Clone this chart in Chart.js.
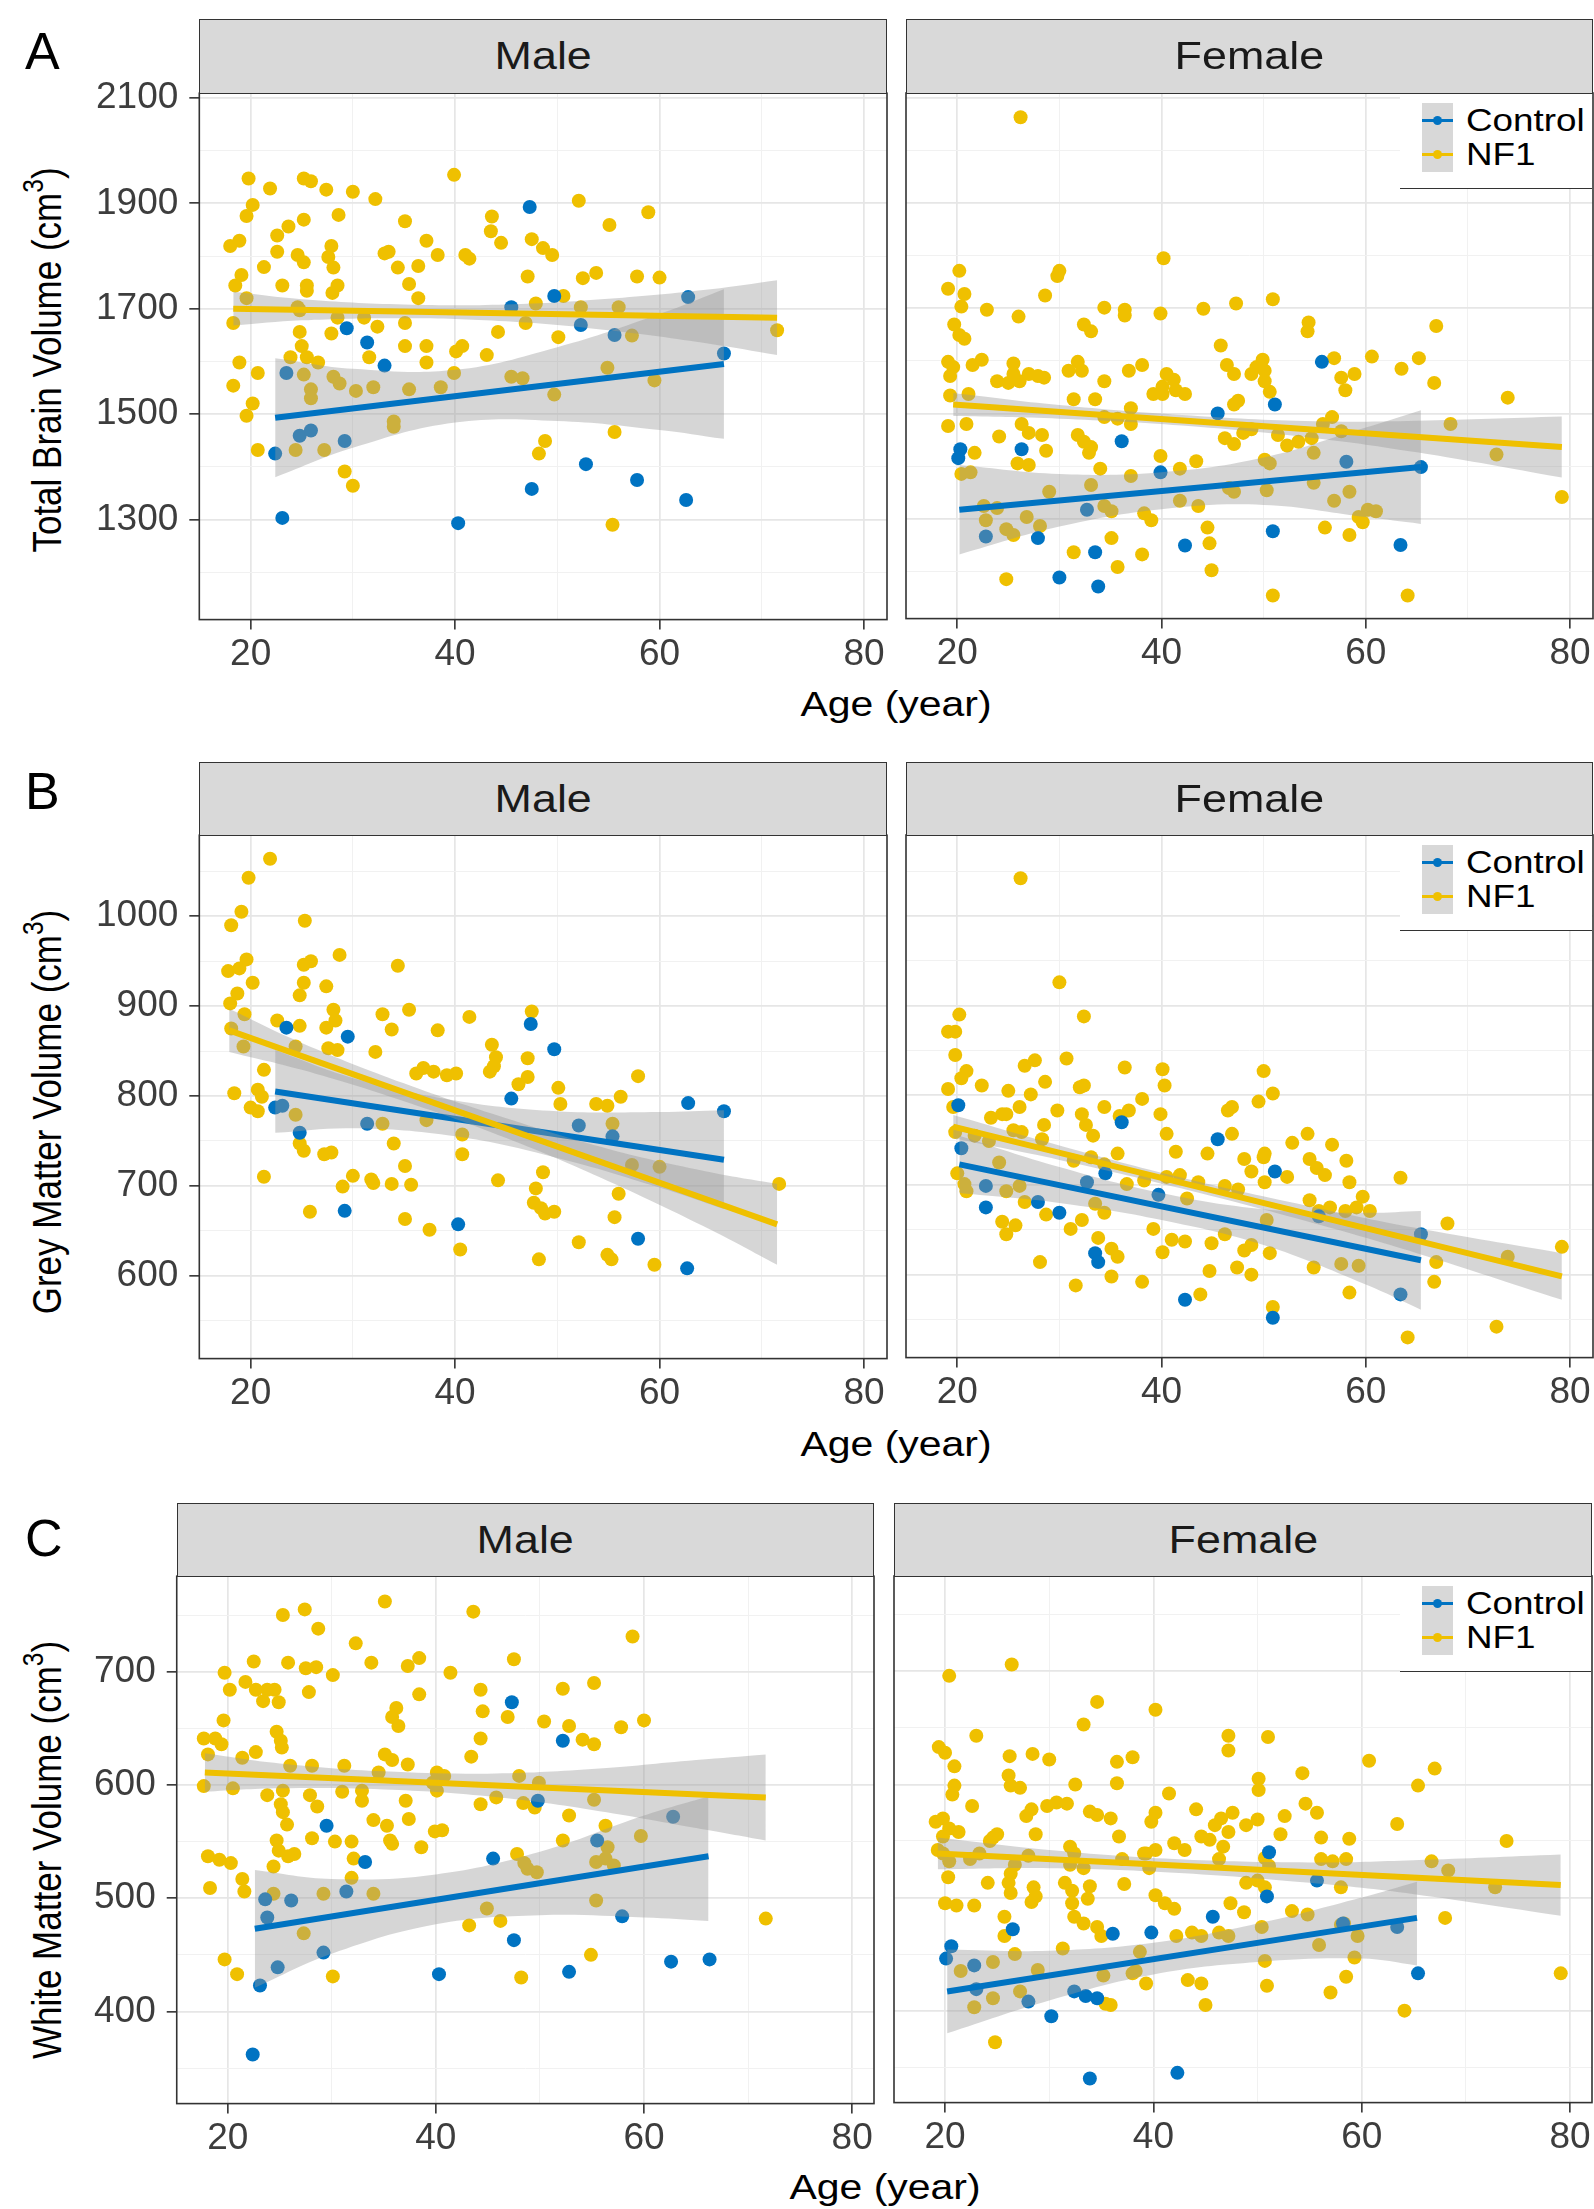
<!DOCTYPE html>
<html><head><meta charset="utf-8">
<script src="https://cdn.jsdelivr.net/npm/chart.js@4.4.1/dist/chart.umd.min.js"></script>
<style>
html,body{margin:0;padding:0;background:#fff;}
body{width:1594px;height:2209px;position:relative;overflow:hidden;font-family:"Liberation Sans",Arial,sans-serif;}
canvas{position:absolute;z-index:1;}
.strip{position:absolute;box-sizing:border-box;background:#d9d9d9;border:1.5px solid #333;display:flex;align-items:center;justify-content:center;color:#1a1a1a;font-size:38px;z-index:3;}
.strip span{display:inline-block;transform:scaleX(1.18);}
.xt{position:absolute;font-size:35px;color:#000;transform:translate(-50%,-50%) scaleX(1.17);white-space:nowrap;z-index:3;line-height:1;}
.yt{position:absolute;font-size:35px;color:#000;transform:translate(-50%,-50%) rotate(-90deg) scaleY(1.17);white-space:nowrap;z-index:3;line-height:1;}
.yt sup{font-size:0.7em;vertical-align:0.6em;line-height:0;}
.lab{position:absolute;font-size:52px;line-height:1;color:#000;z-index:3;}
.legend{position:absolute;background:#fff;border-bottom:1.5px solid #333;box-sizing:border-box;z-index:3;}
.lkey{position:absolute;left:22px;top:9px;width:31px;height:69px;background:#d8d8d8;}
.lline{position:absolute;left:0;width:31px;height:3px;}
.ldot{position:absolute;left:11px;width:9px;height:9px;border-radius:50%;}
.ltxt{position:absolute;left:66px;font-size:32px;line-height:1;color:#000;transform:translateY(-50%) scaleX(1.15);transform-origin:left center;white-space:nowrap;}
</style>
</head><body>
<script>
// ---------------- DATA ----------------
const groups = ["Control", "NF1"];
const sexes = ["Male", "Female"];
const ageTicks = [20, 40, 60, 80];
const ageGrid = [20, 30, 40, 50, 60, 70, 80];
const tbvTicks = [1300, 1500, 1700, 1900, 2100];
const tbvGrid = [1200, 1300, 1400, 1500, 1600, 1700, 1800, 1900, 2000, 2100];
const gmvTicks = [600, 700, 800, 900, 1000];
const gmvGrid = [550, 600, 650, 700, 750, 800, 850, 900, 950, 1000, 1050];
const wmvTicks = [400, 500, 600, 700];
const wmvGrid = [350, 400, 450, 500, 550, 600, 650, 700, 750];

// A: Total brain volume
const tbvMaleNF1 = [[19.8,1947],[21.9,1928],[25.2,1947],[25.9,1942],[27.4,1926],[30.0,1922],[32.2,1908],[39.9,1954],[52.1,1905],[58.9,1883],[55.1,1859],[20.2,1897],[19.6,1876],[25.2,1869],[28.6,1878],[35.1,1866],[43.6,1875],[43.5,1847],[44.5,1825],[47.5,1832],[48.6,1815],[49.5,1802],[18.0,1819],[18.9,1829],[22.6,1839],[23.7,1856],[22.6,1808],[24.6,1802],[25.2,1788],[27.9,1819],[27.6,1798],[28.1,1778],[33.1,1805],[33.5,1808],[37.2,1829],[38.3,1802],[41.0,1802],[41.4,1795],[34.4,1778],[36.4,1781],[21.3,1779],[19.1,1764],[18.5,1744],[23.1,1744],[25.5,1744],[25.5,1734],[28.5,1744],[28.0,1730],[35.5,1747],[36.4,1720],[47.1,1761],[52.5,1758],[53.8,1768],[57.8,1761],[60.0,1759],[18.3,1673],[19.6,1720],[24.6,1703],[24.8,1697],[28.5,1683],[31.1,1683],[32.4,1666],[35.1,1673],[44.2,1656],[46.9,1673],[47.9,1710],[50.6,1724],[52.3,1703],[56.0,1703],[71.5,1659],[50.1,1646],[57.3,1649],[24.8,1656],[25.0,1629],[25.5,1608],[26.6,1598],[27.9,1653],[31.6,1608],[35.1,1629],[37.2,1629],[37.2,1598],[40.1,1619],[40.7,1629],[43.1,1612],[39.9,1578],[45.5,1571],[46.6,1568],[54.9,1588],[59.5,1564],[49.7,1537],[18.9,1598],[20.7,1578],[18.3,1554],[20.2,1520],[19.6,1497],[23.9,1608],[25.2,1575],[25.9,1547],[25.9,1530],[28.1,1571],[28.7,1558],[30.3,1544],[32.0,1551],[35.5,1547],[38.6,1551],[34.0,1486],[34.0,1476],[20.7,1432],[24.4,1432],[27.2,1432],[29.2,1391],[30.0,1364],[55.6,1466],[48.8,1449],[48.2,1425],[55.4,1290]];
const tbvMaleCtrl = [[47.3,1893],[49.7,1724],[62.8,1722],[45.5,1703],[52.3,1669],[55.6,1650],[29.4,1663],[31.4,1636],[33.1,1592],[23.5,1578],[66.3,1615],[24.8,1459],[25.9,1469],[29.2,1449],[22.4,1425],[52.8,1405],[57.8,1375],[47.5,1358],[62.6,1337],[23.1,1303],[40.3,1293]];
const tbvMaleNF1Fit = [[18.3,1700],[71.5,1683]];
const tbvMaleCtrlFit = [[22.4,1493],[66.3,1595]];
const tbvMaleNF1Band = [[18.3,1668,1732],[25,1678,1718],[35,1682,1708],[45,1676,1708],[55,1659,1719],[65,1633,1737],[71.5,1612,1754]];
const tbvMaleCtrlBand = [[22.4,1380,1606],[30,1436,1586],[40,1484,1584],[50,1487,1627],[60,1470,1690],[66.3,1453,1737]];

const tbvFemaleNF1 = [[26.2,2063],[40.2,1795],[20.2,1771],[30.0,1771],[29.8,1761],[19.1,1737],[20.7,1727],[20.4,1703],[28.6,1724],[22.9,1697],[26.0,1684],[34.4,1701],[36.4,1697],[36.4,1686],[39.9,1690],[44.1,1699],[47.3,1709],[50.9,1717],[32.4,1669],[33.1,1656],[54.4,1673],[54.3,1656],[66.9,1666],[19.7,1669],[20.2,1649],[20.7,1642],[45.8,1629],[19.1,1598],[19.6,1588],[19.3,1571],[21.5,1592],[22.4,1602],[25.5,1595],[25.5,1575],[23.9,1561],[25.0,1558],[26.1,1561],[27.0,1575],[27.9,1571],[28.5,1568],[30.9,1581],[31.8,1598],[32.2,1581],[34.4,1561],[36.8,1581],[38.1,1592],[40.5,1575],[41.2,1564],[40.1,1551],[41.4,1544],[42.3,1537],[46.4,1592],[47.1,1575],[49.3,1588],[49.9,1602],[50.1,1581],[48.8,1575],[50.1,1561],[56.9,1605],[57.6,1568],[58.9,1575],[58.0,1544],[60.6,1608],[63.5,1585],[65.2,1605],[66.7,1558],[73.9,1530],[19.3,1534],[21.1,1537],[31.4,1527],[33.5,1527],[37.0,1510],[39.2,1537],[40.1,1537],[47.5,1524],[47.1,1517],[50.6,1541],[19.1,1476],[20.9,1480],[24.1,1456],[26.3,1480],[27.0,1463],[28.3,1459],[28.7,1429],[31.8,1459],[32.4,1446],[32.9,1425],[33.1,1436],[34.4,1493],[35.7,1490],[37.0,1480],[21.7,1425],[20.4,1385],[21.3,1388],[25.9,1405],[27.0,1402],[34.0,1395],[39.9,1419],[41.8,1395],[43.4,1409],[46.2,1453],[47.1,1442],[48.0,1463],[48.8,1470],[50.1,1412],[50.6,1405],[51.4,1459],[52.3,1439],[53.4,1446],[54.7,1453],[54.9,1425],[55.8,1480],[56.7,1493],[57.6,1466],[68.3,1480],[72.8,1422],[79.2,1341],[29.0,1351],[33.1,1364],[34.4,1324],[35.1,1314],[37.0,1381],[38.3,1310],[39.0,1297],[41.8,1334],[43.6,1324],[46.6,1358],[47.1,1351],[50.3,1354],[54.9,1368],[56.9,1334],[58.4,1351],[59.3,1303],[60.2,1317],[61.0,1314],[59.7,1293],[22.8,1297],[24.8,1280],[25.5,1269],[26.8,1303],[28.1,1286],[22.6,1324],[23.9,1320],[31.4,1236],[35.1,1263],[38.1,1232],[44.5,1283],[44.7,1253],[56.0,1283],[58.4,1269],[24.8,1185],[35.7,1208],[44.9,1202],[50.9,1154],[64.1,1154]];
const tbvFemaleCtrl = [[55.7,1598],[51.1,1517],[45.5,1500],[36.1,1447],[26.3,1432],[20.3,1432],[20.1,1415],[39.9,1388],[58.1,1408],[65.4,1398],[32.7,1317],[22.8,1266],[27.9,1263],[50.9,1276],[42.3,1249],[33.5,1236],[63.4,1250],[30.0,1188],[33.8,1171]];
const tbvFemaleNF1Fit = [[19.6,1517],[79.2,1436]];
const tbvFemaleCtrlFit = [[20.2,1317],[65.4,1398]];
const tbvFemaleNF1Band = [[19.6,1495,1539],[30,1490,1516],[42,1477,1497],[55,1453,1485],[65,1426,1486],[79.2,1378,1494]];
const tbvFemaleCtrlBand = [[20.2,1232,1402],[30,1285,1385],[40,1318,1388],[50,1326,1416],[60,1303,1473],[65.4,1290,1506]];

// B: Grey matter volume
const gmvMaleNF1 = [[21.9,1064],[19.8,1043],[19.1,1005],[18.1,990],[25.3,995],[28.7,957],[34.4,945],[19.6,952],[18.9,942],[17.8,939],[20.2,926],[18.7,914],[18.0,903],[25.2,946],[25.9,950],[25.2,926],[24.8,912],[27.4,922],[28.1,896],[28.3,884],[27.4,876],[19.4,891],[18.1,875],[22.6,884],[24.8,878],[32.9,891],[35.5,896],[33.8,874],[38.3,873],[41.4,888],[47.5,894],[43.6,857],[44.0,843],[43.8,833],[43.4,827],[47.1,842],[47.1,821],[46.2,813],[32.2,849],[28.5,851],[27.6,853],[24.4,855],[19.3,855],[21.3,829],[18.4,803],[20.7,807],[21.1,799],[20.0,787],[20.7,783],[36.2,825],[36.9,831],[37.9,827],[39.2,823],[40.1,825],[32.9,769],[34.0,747],[37.2,773],[40.7,757],[40.7,735],[50.1,809],[50.3,791],[57.9,822],[53.8,791],[54.9,789],[56.2,799],[55.4,769],[24.4,779],[24.8,747],[25.2,739],[27.2,735],[27.9,737],[21.3,710],[29.0,699],[30.0,711],[31.8,707],[32.0,703],[33.8,702],[35.7,701],[35.1,722],[44.2,706],[48.6,715],[47.9,697],[47.7,681],[48.4,675],[48.8,669],[49.7,671],[56.0,691],[57.3,723],[60.0,721],[71.7,702],[25.8,671],[35.1,663],[37.5,651],[40.5,629],[55.6,665],[52.1,637],[54.9,623],[55.3,618],[48.2,618],[59.5,612]];
const gmvMaleCtrl = [[23.5,876],[29.5,866],[47.4,880],[49.7,852],[22.4,787],[23.1,789],[45.5,797],[62.8,792],[66.3,783],[31.4,769],[24.8,759],[52.1,767],[55.4,755],[29.2,672],[40.3,657],[57.9,641],[62.7,608]];
const gmvMaleNF1Fit = [[17.9,873],[71.5,657]];
const gmvMaleCtrlFit = [[22.4,805],[66.3,729]];
const gmvMaleNF1Band = [[17.9,849,897],[25,829,859],[35,794,814],[45,753,775],[55,705,741],[65,651,715],[71.5,612,702]];
const gmvMaleCtrlBand = [[22.4,759,851],[30,764,820],[40,755,795],[50,731,783],[60,698,782],[66.3,674,784]];

const gmvFemaleNF1 = [[26.2,1042],[30.0,926],[20.2,890],[32.4,888],[19.1,871],[19.8,871],[19.8,845],[20.9,827],[20.4,819],[22.4,811],[25.0,805],[26.6,833],[27.6,839],[30.7,841],[28.6,815],[27.2,801],[26.1,787],[24.8,779],[32.0,809],[32.4,811],[36.4,831],[40.1,829],[40.3,811],[38.1,796],[50.0,827],[50.9,802],[49.5,793],[46.9,787],[46.5,783],[29.8,783],[34.4,787],[35.9,777],[36.8,783],[39.9,779],[40.5,757],[32.2,779],[32.6,767],[33.3,755],[19.1,807],[19.6,787],[19.8,759],[23.3,775],[24.4,779],[28.5,767],[28.3,751],[25.5,761],[26.3,759],[41.4,737],[44.5,735],[46.9,757],[48.1,729],[50.0,731],[50.1,735],[52.8,747],[54.3,757],[56.7,745],[54.5,729],[55.2,719],[56.0,711],[58.1,727],[58.4,703],[63.4,708],[59.7,687],[20.0,713],[20.7,701],[20.9,693],[24.1,725],[24.8,693],[26.1,699],[21.7,755],[23.1,749],[31.4,727],[33.1,731],[34.4,723],[35.7,735],[36.6,701],[38.3,705],[40.5,709],[41.8,711],[43.6,703],[46.2,699],[47.5,695],[48.8,715],[50.1,703],[52.3,709],[42.5,685],[33.5,679],[34.4,669],[26.6,681],[28.7,667],[24.4,659],[24.8,645],[25.7,655],[31.1,651],[32.2,661],[33.8,641],[35.1,629],[35.7,620],[39.2,651],[40.1,625],[41.0,639],[42.3,637],[44.9,635],[46.2,645],[48.1,627],[48.8,633],[50.3,661],[50.6,624],[54.5,683],[55.4,671],[56.5,675],[58.0,671],[59.1,675],[60.4,671],[54.9,608],[57.6,612],[59.3,610],[68.0,657],[66.9,614],[66.7,592],[73.9,620],[79.2,631],[28.1,614],[31.6,588],[35.1,598],[38.1,592],[44.7,604],[43.8,578],[47.4,608],[48.8,600],[58.4,580],[50.9,564],[64.1,530],[72.8,542]];
const gmvFemaleCtrl = [[20.1,789],[20.4,741],[36.1,770],[45.5,751],[34.5,713],[51.1,715],[22.8,699],[22.8,675],[32.7,703],[27.9,681],[30.0,669],[39.7,689],[55.4,665],[65.4,645],[33.5,624],[33.8,614],[42.3,572],[50.9,552],[63.4,578]];
const gmvFemaleNF1Fit = [[19.6,765],[79.2,598]];
const gmvFemaleCtrlFit = [[20.2,723],[65.4,616]];
const gmvFemaleNF1Band = [[19.6,752,778],[30,728,744],[42,696,708],[55,657,675],[65,624,652],[79.2,572,624]];
const gmvFemaleCtrlBand = [[20.2,691,755],[30,680,720],[40,661,691],[50,633,673],[60,589,669],[65.4,561,671]];

// C: White matter volume
const wmvMaleNF1 = [[35.1,762],[43.6,753],[25.3,750],[27.4,755],[28.7,738],[32.3,725],[58.9,731],[22.5,709],[25.8,708],[27.5,703],[28.5,704],[30.1,697],[33.8,708],[37.3,705],[38.4,712],[41.4,699],[47.5,711],[19.7,699],[55.2,690],[20.2,684],[21.7,691],[22.7,684],[23.8,684],[24.5,684],[23.4,674],[24.9,673],[27.8,682],[38.4,680],[44.3,684],[52.2,685],[36.2,668],[35.8,660],[36.4,652],[44.5,665],[46.9,660],[50.4,656],[52.8,652],[57.8,651],[60.0,657],[54.1,640],[55.2,636],[19.6,657],[17.7,641],[18.8,641],[19.4,636],[24.7,647],[25.1,639],[25.2,633],[18.1,627],[21.4,624],[22.7,629],[44.3,641],[43.4,625],[35.1,627],[35.8,622],[26.0,617],[28.1,617],[31.2,617],[37.3,618],[40.1,611],[40.8,608],[34.5,611],[48.0,608],[49.9,602],[17.7,599],[20.5,597],[23.8,591],[25.3,595],[25.1,583],[25.3,576],[27.9,591],[28.6,581],[31.0,594],[32.9,595],[32.9,586],[37.1,586],[39.7,602],[40.1,595],[44.3,583],[45.8,589],[48.4,584],[49.5,580],[52.8,573],[55.2,587],[25.7,565],[34.0,569],[35.3,564],[35.6,551],[35.8,548],[37.4,570],[39.9,559],[40.6,560],[28.1,553],[30.3,550],[31.9,550],[24.7,551],[24.9,542],[26.4,539],[25.8,537],[38.6,545],[52.2,551],[56.3,564],[56.5,545],[59.7,555],[18.1,537],[19.2,534],[20.3,531],[21.4,517],[21.6,506],[18.3,509],[24.4,528],[32.1,535],[31.9,518],[24.4,504],[29.2,504],[34.0,504],[47.8,539],[48.5,531],[48.8,526],[49.7,523],[55.4,532],[56.3,535],[57.1,529],[55.4,498],[44.9,491],[46.2,480],[43.2,476],[71.7,482],[27.3,469],[19.7,446],[20.9,433],[30.1,431],[54.9,450],[48.2,430]];
const wmvMaleCtrl = [[47.3,673],[52.2,639],[49.8,586],[29.5,564],[62.8,572],[55.5,551],[45.5,535],[33.2,532],[31.4,506],[23.6,499],[26.1,498],[23.8,483],[57.9,484],[47.5,463],[29.2,452],[24.8,439],[23.1,423],[40.3,433],[52.8,435],[62.6,444],[66.3,446],[22.4,362]];
const wmvMaleNF1Fit = [[17.8,611],[71.7,589]];
const wmvMaleCtrlFit = [[22.6,473],[66.2,537]];
const wmvMaleNF1Band = [[17.8,594,628],[25,597,619],[35,596,612],[45,590,610],[55,578,614],[65,562,622],[71.7,551,627]];
const wmvMaleCtrlBand = [[22.6,421,525],[30,451,517],[40,477,521],[50,485,541],[60,483,573],[66.2,480,590]];

const wmvFemaleNF1 = [[20.4,696],[26.4,706],[34.6,673],[40.2,666],[33.3,653],[23.0,643],[47.2,643],[47.2,630],[51.0,642],[19.4,633],[20.0,628],[20.9,616],[26.2,625],[28.4,627],[30.0,622],[36.5,620],[38.0,624],[60.7,621],[67.0,614],[26.1,608],[26.3,599],[27.2,597],[20.9,599],[20.7,591],[32.5,600],[36.5,601],[41.5,592],[50.1,605],[50.1,595],[54.3,610],[65.4,599],[22.6,581],[28.3,578],[27.8,572],[29.8,581],[30.7,584],[31.7,583],[33.9,576],[34.6,573],[35.9,570],[40.2,575],[39.8,567],[44.1,578],[46.5,570],[47.6,575],[45.9,564],[47.2,558],[48.9,564],[50.0,569],[52.6,572],[54.6,583],[55.7,575],[63.4,565],[73.9,550],[19.1,567],[19.8,570],[20.4,561],[21.3,558],[19.8,554],[24.6,553],[25.0,556],[28.7,556],[32.0,545],[32.4,539],[36.7,554],[39.3,539],[40.2,542],[42.0,548],[43.0,542],[44.6,554],[45.4,551],[46.7,545],[52.2,556],[56.1,553],[58.8,552],[19.3,542],[20.4,532],[19.8,539],[22.4,534],[23.3,539],[24.3,550],[28.0,537],[26.7,529],[26.3,521],[32.0,529],[33.3,526],[37.0,534],[37.2,512],[39.1,539],[39.6,526],[46.3,534],[50.7,535],[51.1,528],[56.1,534],[57.2,532],[58.5,534],[66.7,532],[68.3,524],[20.3,518],[24.1,513],[26.1,513],[26.3,504],[28.5,509],[28.7,501],[28.3,496],[31.5,513],[32.2,506],[33.9,510],[33.7,499],[40.2,502],[41.1,495],[42.0,490],[48.9,513],[50.0,515],[50.7,509],[58.0,509],[72.8,509],[20.0,495],[21.1,493],[22.8,493],[25.7,483],[32.2,495],[32.4,483],[33.3,477],[34.6,474],[35.0,466],[47.4,495],[48.7,487],[50.4,474],[53.3,488],[54.8,485],[58.3,477],[68.0,482],[26.7,450],[25.7,466],[31.3,455],[38.7,452],[38.3,435],[42.2,466],[43.7,469],[44.6,466],[46.3,469],[47.2,466],[50.7,444],[50.9,422],[55.9,458],[59.3,447],[58.5,430],[58.0,476],[59.6,466],[21.5,435],[24.6,443],[24.6,411],[22.8,403],[27.2,417],[28.9,436],[35.2,431],[35.4,406],[35.9,405],[38.0,433],[39.3,424],[43.3,427],[44.6,424],[45.0,405],[57.0,416],[64.1,400],[79.1,433],[24.8,372]];
const wmvFemaleCtrl = [[51.1,540],[50.9,501],[45.7,483],[26.5,472],[36.1,468],[39.8,469],[63.4,474],[20.6,457],[20.1,446],[22.8,440],[55.7,515],[58.2,477],[23.0,419],[28.0,408],[32.4,417],[33.5,413],[34.6,411],[30.2,395],[65.4,433],[33.9,340],[42.3,345]];
const wmvFemaleNF1Fit = [[19.3,539],[79.1,511]];
const wmvFemaleCtrlFit = [[20.2,417],[65.3,482]];
const wmvFemaleNF1Band = [[19.3,525,553],[30,526,542],[42,522,534],[55,513,531],[65,503,533],[79.1,484,538]];
const wmvFemaleCtrlBand = [[20.2,380,454],[30,409,453],[40,432,460],[50,443,477],[60,446,500],[65.3,440,514]];

// axis ranges (data units)
const ageRangeAB = [14.98, 82.25];
const ageRangeC = [15.1, 82.1];
const tbvRange = [1110, 2109];
const gmvRange = [507.5, 1090.3];
const wmvRange = [318.7, 784.3];

// ---------------- STYLE / LAYOUT ----------------
const FONT = "'Liberation Sans', Arial, sans-serif";
const BLUE = '#0073C2', YEL = '#EFC000', BAND = 'rgba(153,153,153,0.4)';
const rows = [
  { letter:'A', title:'Total Brain Volume (cm<sup>3</sup>)', titleY:360, xTitleY:703, xTitleX:896, letterTop:25, stripTop:19,
    top:93, bottom:619, male:[199,887], female:[906,1593], ageRange:ageRangeAB,
    yRange:tbvRange, yGrid:tbvGrid, yTicks:tbvTicks,
    data:{Male:[tbvMaleNF1,tbvMaleCtrl,tbvMaleNF1Fit,tbvMaleCtrlFit,tbvMaleNF1Band,tbvMaleCtrlBand],
          Female:[tbvFemaleNF1,tbvFemaleCtrl,tbvFemaleNF1Fit,tbvFemaleCtrlFit,tbvFemaleNF1Band,tbvFemaleCtrlBand]} },
  { letter:'B', title:'Grey Matter Volume (cm<sup>3</sup>)', titleY:1112, xTitleY:1443, xTitleX:896, letterTop:765, stripTop:762,
    top:835, bottom:1358, male:[199,887], female:[906,1593], ageRange:ageRangeAB,
    yRange:gmvRange, yGrid:gmvGrid, yTicks:gmvTicks,
    data:{Male:[gmvMaleNF1,gmvMaleCtrl,gmvMaleNF1Fit,gmvMaleCtrlFit,gmvMaleNF1Band,gmvMaleCtrlBand],
          Female:[gmvFemaleNF1,gmvFemaleCtrl,gmvFemaleNF1Fit,gmvFemaleCtrlFit,gmvFemaleNF1Band,gmvFemaleCtrlBand]} },
  { letter:'C', title:'White Matter Volume (cm<sup>3</sup>)', titleY:1850, xTitleY:2186, xTitleX:885, letterTop:1512, stripTop:1503,
    top:1576, bottom:2103, male:[177,874], female:[894,1592], ageRange:ageRangeC,
    yRange:wmvRange, yGrid:wmvGrid, yTicks:wmvTicks,
    data:{Male:[wmvMaleNF1,wmvMaleCtrl,wmvMaleNF1Fit,wmvMaleCtrlFit,wmvMaleNF1Band,wmvMaleCtrlBand],
          Female:[wmvFemaleNF1,wmvFemaleCtrl,wmvFemaleNF1Fit,wmvFemaleCtrlFit,wmvFemaleNF1Band,wmvFemaleCtrlBand]} }
];

const panelBorder = {
  id: 'panelBorder',
  afterDraw(chart) {
    const a = chart.chartArea, ctx = chart.ctx;
    ctx.save(); ctx.strokeStyle = '#333'; ctx.lineWidth = 1.6;
    ctx.strokeRect(a.left, a.top, a.right - a.left, a.bottom - a.top);
    ctx.restore();
  }
};

const xy = arr => arr.map(p => ({x: p[0], y: p[1]}));
const bandHi = arr => arr.map(p => ({x: p[0], y: p[2]}));
const bandLo = arr => arr.map(p => ({x: p[0], y: p[1]}));

function makeConfig(row, sex) {
  const [nf1, ctrl, nf1Fit, ctrlFit, nf1Band, ctrlBand] = row.data[sex];
  const showY = sex === 'Male';
  const major = v => ageTicks.includes(v);
  const yMajor = v => row.yTicks.includes(v);
  return {
    type: 'scatter',
    data: { datasets: [
      { label:'NF1 fit', data: xy(nf1Fit), showLine:true, borderColor:YEL, borderWidth:6, pointRadius:0, order:0 },
      { label:'NF1 CI', data: bandHi(nf1Band), showLine:true, borderWidth:0, borderColor:'rgba(0,0,0,0)', pointRadius:0, fill:'+1', backgroundColor:BAND, tension:0.4, order:1 },
      { label:'NF1 CI low', data: bandLo(nf1Band), showLine:true, borderWidth:0, borderColor:'rgba(0,0,0,0)', pointRadius:0, tension:0.4, order:1 },
      { label:'Control fit', data: xy(ctrlFit), showLine:true, borderColor:BLUE, borderWidth:6, pointRadius:0, order:2 },
      { label:'Control CI', data: bandHi(ctrlBand), showLine:true, borderWidth:0, borderColor:'rgba(0,0,0,0)', pointRadius:0, fill:'+1', backgroundColor:BAND, tension:0.4, order:3 },
      { label:'Control CI low', data: bandLo(ctrlBand), showLine:true, borderWidth:0, borderColor:'rgba(0,0,0,0)', pointRadius:0, tension:0.4, order:3 },
      { label:'Control', data: xy(ctrl), pointRadius:7, pointBackgroundColor:BLUE, pointBorderWidth:0, order:4 },
      { label:'NF1', data: xy(nf1), pointRadius:7, pointBackgroundColor:YEL, pointBorderWidth:0, order:5 }
    ]},
    options: {
      responsive:false, animation:false, devicePixelRatio:1, events:[],
      layout:{ padding:0 },
      plugins:{ legend:{display:false}, tooltip:{enabled:false} },
      scales: {
        x: { type:'linear', min:row.ageRange[0], max:row.ageRange[1],
          afterBuildTicks: s => { s.ticks = ageGrid.map(v => ({value:v})); },
          ticks:{ autoSkip:false, maxRotation:0, padding:3, color:'#3d3d3d', font:{family:FONT, size:37},
                  callback: v => major(v) ? String(v) : '' },
          grid:{ color: c => (c.tick && major(c.tick.value)) ? '#E6E6E6' : '#F1F1F1',
                 lineWidth: c => (c.tick && major(c.tick.value)) ? 1.7 : 1,
                 drawTicks:true, tickLength:10, tickWidth:1.6,
                 tickColor: c => (c.tick && major(c.tick.value)) ? '#333' : 'rgba(0,0,0,0)' },
          border:{ display:false } },
        y: { type:'linear', min:row.yRange[0], max:row.yRange[1],
          afterBuildTicks: s => { s.ticks = row.yGrid.map(v => ({value:v})); },
          ticks:{ display:showY, autoSkip:false, padding:11, color:'#3d3d3d', font:{family:FONT, size:37},
                  callback: v => yMajor(v) ? String(v) : '' },
          grid:{ color: c => (c.tick && yMajor(c.tick.value)) ? '#E6E6E6' : '#F1F1F1',
                 lineWidth: c => (c.tick && yMajor(c.tick.value)) ? 1.7 : 1,
                 drawTicks:showY, tickLength:10, tickWidth:1.6,
                 tickColor: c => (c.tick && yMajor(c.tick.value)) ? '#333' : 'rgba(0,0,0,0)' },
          border:{ display:false } }
      }
    },
    plugins:[panelBorder]
  };
}

function sizeCanvas(cv, W, H) {
  cv.width = W; cv.height = H; cv.style.width = W + 'px'; cv.style.height = H + 'px';
}

function makePanel(row, sex) {
  const [L, R] = row[sex === 'Male' ? 'male' : 'female'];
  const T = row.top, B = row.bottom, pw = R - L, ph = B - T;
  const cv = document.createElement('canvas');
  document.body.appendChild(cv);
  let W = pw + 160, H = ph + 120;
  sizeCanvas(cv, W, H);
  let ch = new Chart(cv, makeConfig(row, sex));
  for (let k = 0; k < 4; k++) {
    const a = ch.chartArea;
    if (Math.abs((a.right - a.left) - pw) < 0.5 && Math.abs((a.bottom - a.top) - ph) < 0.5) break;
    const nW = Math.round(pw + a.left + (W - a.right));
    const nH = Math.round(ph + a.top + (H - a.bottom));
    ch.destroy();
    W = nW; H = nH; sizeCanvas(cv, W, H);
    ch = new Chart(cv, makeConfig(row, sex));
  }
  const a = ch.chartArea;
  cv.style.left = (L - a.left) + 'px';
  cv.style.top = (T - a.top) + 'px';
}

function addDiv(cls, html, style) {
  const d = document.createElement('div');
  d.className = cls; d.innerHTML = html;
  Object.assign(d.style, style);
  document.body.appendChild(d);
  return d;
}

rows.forEach(row => {
  sexes.forEach(sex => makePanel(row, sex));
  sexes.forEach(sex => {
    const [L, R] = row[sex === 'Male' ? 'male' : 'female'];
    addDiv('strip', '<span>' + sex + '</span>', { left:L+'px', top:row.stripTop+'px', width:(R-L)+'px', height:(row.top-row.stripTop+1)+'px' });
  });
  addDiv('lab', row.letter, { left:'25px', top:row.letterTop+'px' });
  addDiv('yt', row.title, { left:'46px', top:row.titleY+'px' });
  addDiv('xt', 'Age (year)', { left:row.xTitleX+'px', top:row.xTitleY+'px' });
  // legend inside the Female panel
  const [fL, fR] = row.female;
  const lg = addDiv('legend', '', { left:'1400px', top:(row.top+1)+'px', width:(fR-1400-1)+'px', height:'95px' });
  const key = document.createElement('div'); key.className = 'lkey'; lg.appendChild(key);
  [[BLUE, 17, groups[0]], [YEL, 51, groups[1]]].forEach(([col, cy, name]) => {
    const ln = document.createElement('div'); ln.className = 'lline';
    ln.style.top = (cy - 1.5) + 'px'; ln.style.background = col; key.appendChild(ln);
    const dt = document.createElement('div'); dt.className = 'ldot';
    dt.style.top = (cy - 4.5) + 'px'; dt.style.background = col; key.appendChild(dt);
    const tx = document.createElement('div'); tx.className = 'ltxt';
    tx.style.top = (cy + 9) + 'px'; tx.textContent = name; lg.appendChild(tx);
  });
});
</script>
</body></html>
